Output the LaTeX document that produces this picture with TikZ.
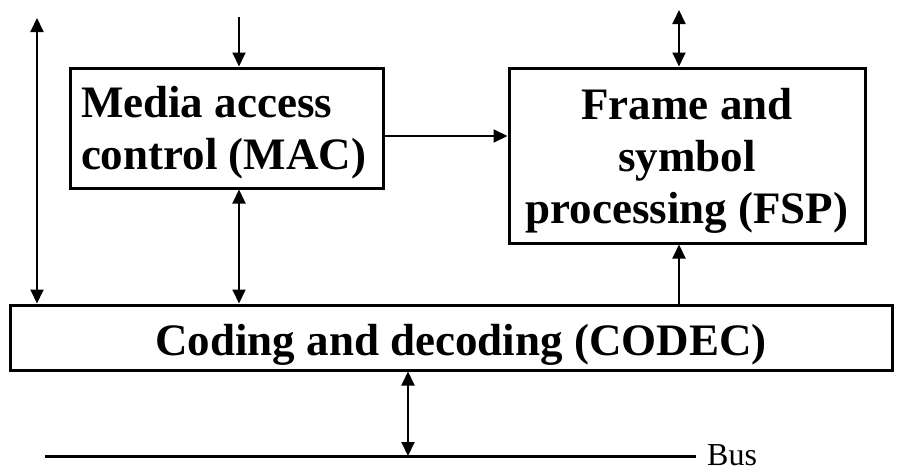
\documentclass[tikz,border=0pt]{standalone}
\usepackage{fontspec}
\setmainfont{Liberation Serif}
\usetikzlibrary{arrows.meta}
\begin{document}
\begin{tikzpicture}[x=1pt,y=-1pt,
  box/.style={draw, line width=3pt, inner sep=0pt, font=\bfseries\fontsize{45}{52}\selectfont},
  conn/.style={line width=2pt, -{Triangle[length=14pt,width=13pt]}},
  biconn/.style={line width=2pt, {Triangle[length=14pt,width=13pt]}-{Triangle[length=14pt,width=13pt]}},
  buslabel/.style={anchor=base west, inner sep=0pt, font=\fontsize{32}{38}\selectfont}
  ]
\useasboundingbox (0,0) rectangle (902,469);

\node[box, minimum width=313pt, minimum height=120pt, align=flush left, text width=291pt] (mac) at (226.5,128)
  {\rule{0pt}{41pt}Media access\\control (MAC)};
\node[box, minimum width=356pt, minimum height=175pt, align=center] (fsp) at (687,155.5)
  {\rule{0pt}{41pt}Frame and\\symbol\\processing (FSP)};
\node[box, minimum width=882pt, minimum height=65pt, text height=45pt, text depth=10pt] (codec) at (451,337.5)
  {\hspace*{20pt}Coding and decoding (CODEC)};

\coordinate (lt) at (37,18);
\draw[biconn] (lt) -- (lt |- codec.north);

\coordinate (mt) at (239,17);
\draw[conn] (mt) -- (mt |- mac.north);
\draw[biconn] (mt |- mac.south) -- (mt |- codec.north);

\coordinate (mf) at (0,136);
\draw[conn] (mf -| mac.east) -- (mf -| fsp.west);

\coordinate (ft) at (679,10);
\draw[biconn] (ft) -- (ft |- fsp.north);
\draw[conn] (ft |- codec.north) -- (ft |- fsp.south);

\coordinate (busL) at (45,456);
\coordinate (busR) at (696,456);
\draw[line width=3pt] (busL) -- (busR);
\node[buslabel] (bus) at ([xshift=11pt,yshift=-9pt]busR) {Bus};

\coordinate (bc) at (408,456);
\draw[biconn] (bc |- codec.south) -- (bc);
\end{tikzpicture}
\end{document}
